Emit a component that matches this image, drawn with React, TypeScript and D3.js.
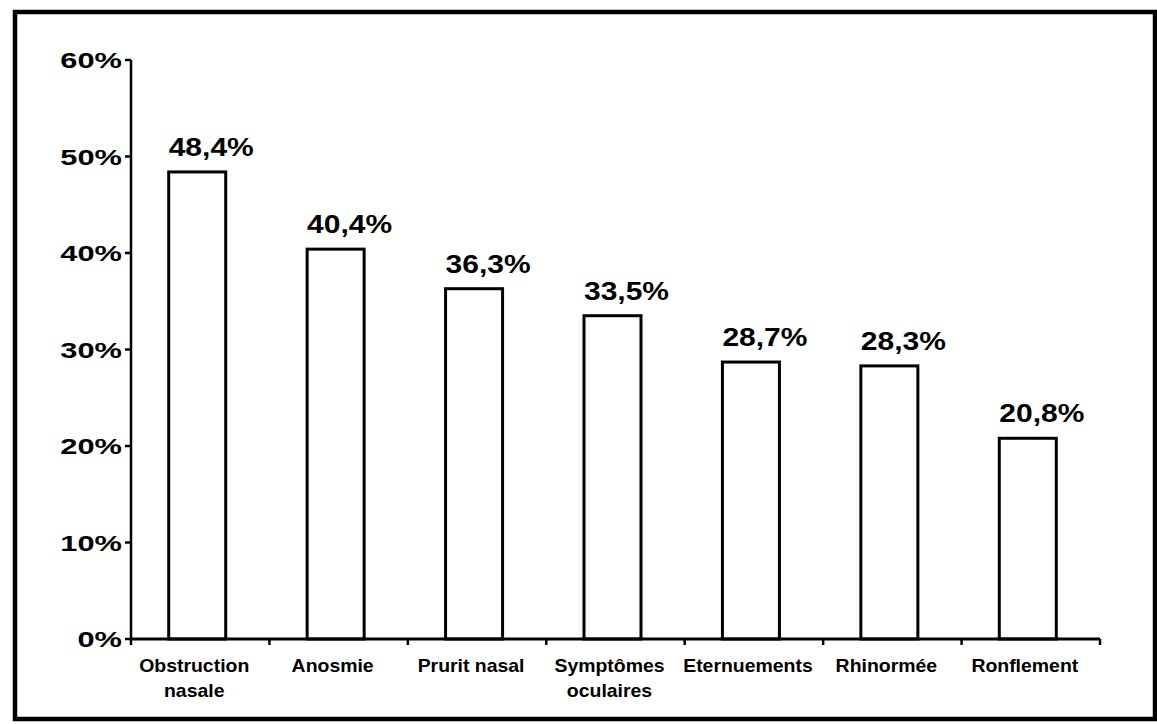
import React from "react";
import * as d3 from "d3";

const categories: string[][] = [
  ["Obstruction", "nasale"],
  ["Anosmie"],
  ["Prurit nasal"],
  ["Symptômes", "oculaires"],
  ["Eternuements"],
  ["Rhinormée"],
  ["Ronflement"],
];
const values: number[] = [48.4, 40.4, 36.3, 33.5, 28.7, 28.3, 20.8];
const valueLabels: string[] = ["48,4%", "40,4%", "36,3%", "33,5%", "28,7%", "28,3%", "20,8%"];
const yTicks: number[] = [0, 10, 20, 30, 40, 50, 60];

const W = 1157;
const H = 724;
const left = 131;
const right = 1100;
const top = 60;
const bottom = 639;

export default function App() {
  const keys = categories.map((_, i) => String(i));
  const x = d3.scaleBand<string>().domain(keys).range([left, right]).paddingInner(0).paddingOuter(0);
  const y = d3.scaleLinear().domain([0, 60]).range([bottom, top]);
  const bw = x.bandwidth();
  const barW = 57;
  const font = "Arial, 'Liberation Sans', sans-serif";
  const boundaries = d3.range(categories.length + 1).map((i) => left + i * bw);

  return (
    <svg width={W} height={H} style={{ position: "absolute", left: 0, top: 0, background: "#fff" }}>
      <rect x={15} y={12} width={1140} height={707} fill="#fff" stroke="#000" strokeWidth={4.5} />
      {/* bars */}
      {values.map((v, i) => {
        const cx = (x(String(i)) as number) + bw / 2 - 3;
        return (
          <g key={i}>
            <rect x={cx - barW / 2} y={y(v)} width={barW} height={bottom - y(v)} fill="#fff" stroke="#000" strokeWidth={3} />
            <text
              x={0}
              y={0}
              textAnchor="middle"
              fontFamily={font}
              fontSize={25}
              fontWeight={600}
              fill="#000"
              transform={`translate(${cx + 14},${y(v) - 16}) scale(1.2,1)`}
            >
              {valueLabels[i]}
            </text>
          </g>
        );
      })}
      {/* y axis */}
      <line x1={left} x2={left} y1={top} y2={bottom} stroke="#000" strokeWidth={2.5} />
      {yTicks.map((t) => (
        <g key={t}>
          <line x1={left - 6} x2={left} y1={y(t)} y2={y(t)} stroke="#000" strokeWidth={2.5} />
          <text
            x={0}
            y={0}
            textAnchor="end"
            fontFamily={font}
            fontSize={22}
            fontWeight="bold"
            fill="#000"
            transform={`translate(${left - 9},${y(t) + 8}) scale(1.4,1)`}
          >
            {t}%
          </text>
        </g>
      ))}
      {/* x axis */}
      <line x1={left} x2={right} y1={bottom} y2={bottom} stroke="#000" strokeWidth={3} />
      {boundaries.map((bx, i) => (
        <line key={i} x1={bx} x2={bx} y1={bottom} y2={bottom + 6} stroke="#000" strokeWidth={2.5} />
      ))}
      {categories.map((lines, i) => {
        const cx = (x(String(i)) as number) + bw / 2;
        return (
          <text
            key={i}
            x={0}
            y={0}
            textAnchor="middle"
            fontFamily={font}
            fontSize={18}
            fontWeight="bold"
            fill="#000"
            transform={`translate(${cx - 6},${bottom + 33}) scale(1.08,1)`}
          >
            {lines.map((l, j) => (
              <tspan key={j} x={0} dy={j === 0 ? 0 : 25}>
                {l}
              </tspan>
            ))}
          </text>
        );
      })}
    </svg>
  );
}
